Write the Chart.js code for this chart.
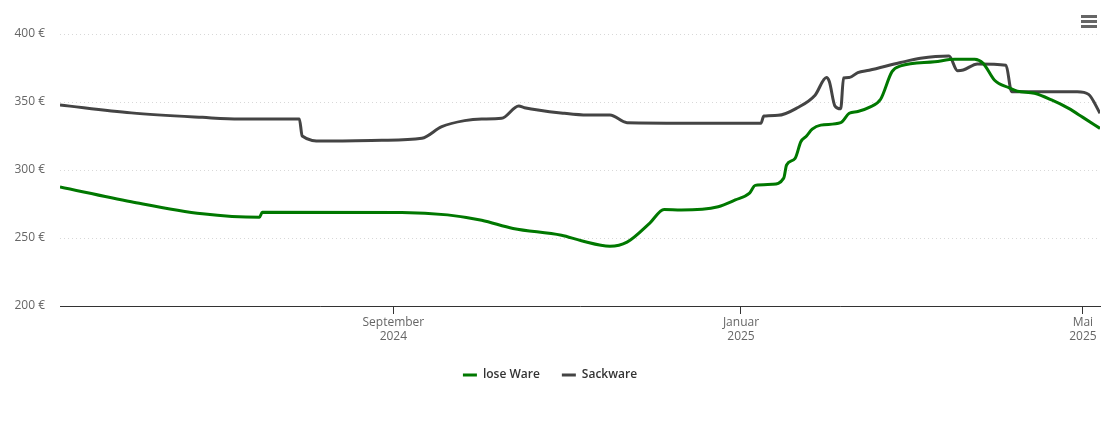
<!DOCTYPE html>
<html>
<head>
<meta charset="utf-8">
<script src="https://cdn.jsdelivr.net/npm/chart.js@4.4.1/dist/chart.umd.min.js"></script>
<style>
  html, body { margin: 0; padding: 0; background: #fff; }
  #wrap { width: 1110px; height: 423px; position: relative; }
</style>
</head>
<body>
<div id="wrap"><canvas id="priceChart"></canvas></div>
<script>
// lose Ware (green)
const loseDates = [
  "2024-05-07", "2024-06-01", "2024-06-26", "2024-07-16", "2024-07-17", "2024-09-04",
  "2024-09-20", "2024-10-02", "2024-10-13", "2024-10-30", "2024-11-06", "2024-11-16",
  "2024-11-22", "2024-11-30", "2024-12-05", "2024-12-11", "2024-12-24", "2024-12-30",
  "2025-01-04", "2025-01-06", "2025-01-12", "2025-01-16", "2025-01-17", "2025-01-20",
  "2025-01-22", "2025-01-24", "2025-01-26", "2025-01-29", "2025-02-05", "2025-02-08",
  "2025-02-11", "2025-02-15", "2025-02-19", "2025-02-23", "2025-02-26", "2025-03-10",
  "2025-03-17", "2025-03-24", "2025-03-27", "2025-03-31", "2025-04-05", "2025-04-08",
  "2025-04-14", "2025-04-20", "2025-04-26", "2025-05-01", "2025-05-07"
];
const loseValues = [
  287.5, 276.7, 267.8, 265.2, 268.9, 268.8,
  267, 263, 257, 252, 248, 244,
  247, 261, 271, 270.6, 273, 278,
  283, 288.7, 289.5, 294, 303.7, 308.6,
  320.8, 325, 330, 333, 334.8, 341.7,
  343, 346, 352, 372.3, 376.5, 379.6,
  381.4, 381.4, 378.4, 366, 360.5, 358,
  356.4, 351.5, 345.3, 338.7, 330.6
];

// Sackware (dark grey)
const sackDates = [
  "2024-05-07", "2024-06-01", "2024-06-26", "2024-07-09", "2024-07-30", "2024-07-31",
  "2024-08-07", "2024-08-28", "2024-09-11", "2024-09-18", "2024-09-26", "2024-10-02",
  "2024-10-09", "2024-10-15", "2024-10-17", "2024-10-31", "2024-11-08", "2024-11-16",
  "2024-11-22", "2025-01-08", "2025-01-09", "2025-01-14", "2025-01-21", "2025-01-27",
  "2025-01-31", "2025-02-01", "2025-02-03", "2025-02-05", "2025-02-06", "2025-02-08",
  "2025-02-11", "2025-02-15", "2025-02-26", "2025-03-05", "2025-03-15", "2025-03-18",
  "2025-03-20", "2025-03-25", "2025-04-04", "2025-04-06", "2025-04-29", "2025-05-03",
  "2025-05-07"
];
const sackValues = [
  347.8, 342, 338.7, 337.5, 337.5, 325,
  321.3, 321.8, 323.3, 331.9, 336.3, 337.5,
  338, 347, 345.8, 341.7, 340.4, 340.4,
  334.8, 334.3, 339.7, 340.2, 346, 355,
  368, 365, 347, 345, 367.6, 368,
  371.6, 373.3, 379, 382.1, 383.8, 373,
  373.5, 378, 377, 357.6, 357.6, 355.6,
  341.7
];

const xTickDates = ["2024-09-01", "2025-01-01", "2025-05-01"];
const xTickLabels = [["September", "2024"], ["Januar", "2025"], ["Mai", "2025"]];
const yTicks = [200, 250, 300, 350, 400];
const rangeStart = "2024-05-07";
const rangeEnd = "2025-05-07";

const toDay = (s) => {
  const p = s.split("-").map(Number);
  return Date.UTC(p[0], p[1] - 1, p[2]) / 86400000;
};
const toPoints = (dates, values) => dates.map((d, i) => ({ x: toDay(d), y: values[i] }));
const tickDays = xTickDates.map(toDay);

// hamburger menu icon, top right
const menuIcon = {
  id: "menuIcon",
  afterDraw(chart) {
    const ctx = chart.ctx;
    ctx.save();
    ctx.fillStyle = "#666";
    [15, 20, 25].forEach((y) => {
      ctx.fillRect(1081, y, 16, 3);
    });
    ctx.restore();
  },
};

new Chart(document.getElementById("priceChart"), {
  type: "line",
  data: {
    datasets: [
      {
        label: "lose Ware",
        data: toPoints(loseDates, loseValues),
        borderColor: "#007800",
        backgroundColor: "#007800",
        borderWidth: 3,
        pointRadius: 0,
        cubicInterpolationMode: "monotone",
        fill: false,
      },
      {
        label: "Sackware",
        data: toPoints(sackDates, sackValues),
        borderColor: "#444444",
        backgroundColor: "#444444",
        borderWidth: 3,
        pointRadius: 0,
        cubicInterpolationMode: "monotone",
        fill: false,
      },
    ],
  },
  options: {
    responsive: true,
    maintainAspectRatio: false,
    animation: false,
    events: [],
    layout: { padding: { top: 34, right: 10, bottom: 32, left: 0 } },
    plugins: {
      tooltip: { enabled: false },
      legend: {
        position: "bottom",
        labels: {
          boxWidth: 14,
          boxHeight: 3,
          padding: 22,
          color: "#333",
          font: { family: "Open Sans", size: 12, weight: "600" },
          generateLabels(chart) {
            return chart.data.datasets.map((ds, i) => ({
              text: ds.label,
              fillStyle: ds.borderColor,
              strokeStyle: ds.borderColor,
              lineWidth: 0,
              fontColor: "#333",
              datasetIndex: i,
              hidden: false,
            }));
          },
        },
      },
    },
    scales: {
      x: {
        type: "linear",
        min: toDay(rangeStart),
        max: toDay(rangeEnd),
        afterBuildTicks(scale) {
          scale.ticks = tickDays.map((v) => ({ value: v }));
        },
        afterFit(scale) {
          scale.height = 41;
        },
        border: { color: "#333", width: 1 },
        grid: {
          drawOnChartArea: false,
          drawTicks: true,
          tickLength: 8,
          color: "#333",
        },
        ticks: {
          autoSkip: false,
          maxRotation: 0,
          padding: 1,
          color: "#666",
          font: { family: "Open Sans", size: 12, lineHeight: 1.2 },
          callback(value) {
            const i = tickDays.indexOf(value);
            return i >= 0 ? xTickLabels[i] : "";
          },
        },
      },
      y: {
        min: 200,
        max: 400,
        afterBuildTicks(scale) {
          scale.ticks = yTicks.map((v) => ({ value: v }));
        },
        afterFit(scale) {
          scale.width = 60;
        },
        border: { display: false, dash: [1, 3] },
        grid: {
          color: "#d8d8d8",
          drawTicks: false,
          lineWidth: 1,
        },
        ticks: {
          padding: 15,
          color: "#666",
          font: { family: "Open Sans", size: 12 },
          callback: (v) => v + " €",
        },
      },
    },
  },
  plugins: [menuIcon],
});
</script>
</body>
</html>
